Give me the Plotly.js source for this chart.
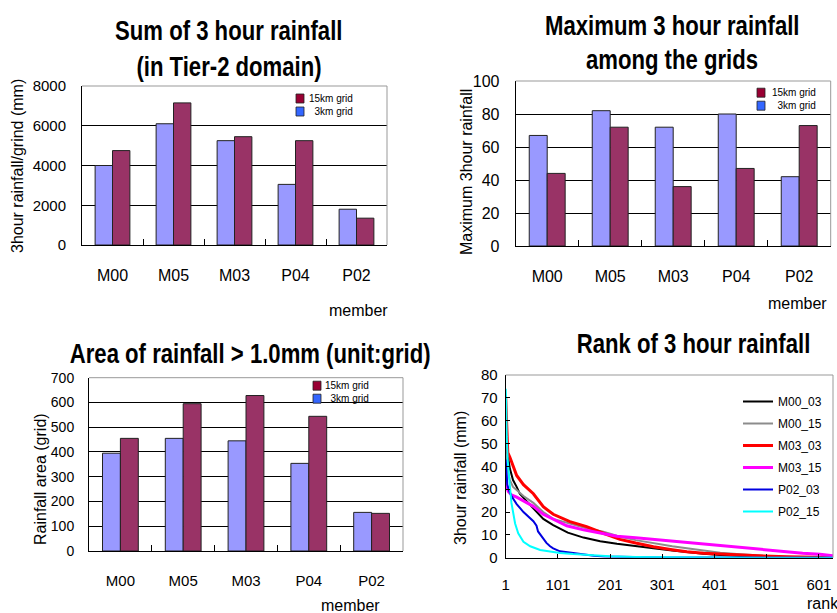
<!DOCTYPE html>
<html>
<head>
<meta charset="utf-8">
<script src="https://cdn.plot.ly/plotly-3.0.1.min.js"></script>
<style>html,body{margin:0;padding:0;background:#fff;}#chart{width:837px;height:613px;}</style>
</head>
<body>
<div id="chart"></div>
<script>
// ---------- data ----------
var members = ['M00', 'M05', 'M03', 'P04', 'P02'];

var sum3km  = [4000, 6100, 5250, 3050, 1800];
var sum15km = [4750, 7150, 5450, 5250, 1350];

var max3km  = [67, 82, 72, 80, 42];
var max15km = [44, 72, 36, 47, 73];

var area3km  = [395, 455, 445, 354, 156];
var area15km = [455, 595, 628, 544, 152];

var rankTicks = [1, 101, 201, 301, 401, 501, 601];

var m00_03_rank = [1, 3, 5, 9, 15, 22, 28, 40, 54, 73, 92, 120, 150, 182, 214, 250, 284, 320, 348, 380, 412, 440, 470, 520, 580, 630];
var m00_03_val  = [60, 52, 45, 39, 34, 31, 28, 25, 21.5, 17, 14.3, 11, 8.8, 7.2, 6.1, 5, 4.1, 3.2, 2.4, 1.7, 1.2, 0.8, 0.5, 0.2, 0.1, 0.05];

var m00_15_rank = [1, 3, 5, 9, 15, 22, 35, 54, 73, 92, 124, 156, 188, 220, 250, 284, 320, 348, 380, 412, 450, 475, 510, 550, 600, 630];
var m00_15_val  = [50, 42, 38, 34, 31, 29.6, 27, 24, 20, 17, 15, 12.9, 11.4, 9.2, 7.7, 6.3, 5, 4.1, 3.1, 2.2, 1.5, 1.1, 0.6, 0.3, 0.1, 0.05];

var m03_03_rank = [1, 2, 3, 5, 9, 15, 22, 35, 54, 73, 92, 124, 156, 188, 220, 250, 284, 320, 348, 380, 412, 440, 475, 510, 539, 580, 630];
var m03_03_val  = [70, 62, 55, 46, 44, 40, 36, 32, 28, 22.3, 19, 15.8, 13.6, 10.7, 8, 6.4, 4.8, 3.5, 2.6, 2, 1.6, 1.2, 0.8, 0.6, 0.4, 0.2, 0.1];

var m03_15_rank = [1, 3, 6, 12, 22, 35, 54, 73, 92, 118, 150, 182, 214, 250, 284, 320, 348, 380, 412, 440, 475, 510, 539, 570, 603, 630];
var m03_15_val  = [37, 31, 29, 27.5, 26.5, 25, 22.5, 19, 17, 14, 12.2, 10.7, 9.4, 8.7, 8, 7.3, 6.6, 5.9, 5.1, 4.5, 3.8, 3.1, 2.5, 2, 1.5, 0.8];

var p02_03_rank = [1, 2, 4, 8, 12, 22, 35, 54, 60, 63, 73, 79, 86, 92, 105, 124, 150, 170, 190, 220, 300, 400, 500, 630];
var p02_03_val  = [43, 38, 32, 29, 27, 23.5, 20, 16, 14, 11.5, 8.5, 6.5, 5, 4.1, 2.8, 2.2, 1.4, 0.9, 0.5, 0.3, 0.1, 0.05, 0, 0];

var p02_15_rank = [1, 2, 3, 5, 8, 12, 19, 25, 35, 48, 67, 86, 105, 130, 156, 200, 250, 300, 400, 500, 630];
var p02_15_val  = [74, 68, 53, 42, 34, 24, 15, 10.7, 7, 5, 3.4, 2.6, 2.1, 1.6, 1.2, 0.6, 0.3, 0.15, 0.05, 0, 0];

// ---------- helpers ----------
var W = 837, H = 613;
function px(x) { return x / W; }
function py(y) { return 1 - y / H; }

var sans = 'Liberation Sans, Arial, sans-serif';

var col3 = '#9999FF', col15 = '#993366';
var barLine = {color: '#222', width: 1};

function bar(x, y, color, xa, ya) {
  return {type: 'bar', x: x, y: y, xaxis: xa, yaxis: ya, showlegend: false,
          marker: {color: color, line: barLine}, hoverinfo: 'x+y'};
}
function line(x, y, name, color, width) {
  return {type: 'scatter', mode: 'lines', x: x, y: y, xaxis: 'x4', yaxis: 'y4', name: name,
          legendgroup: name, line: {color: color, width: width}};
}

var traces = [
  bar(members, sum3km, col3, 'x', 'y'),
  bar(members, sum15km, col15, 'x', 'y'),
  bar(members, max3km, col3, 'x2', 'y2'),
  bar(members, max15km, col15, 'x2', 'y2'),
  bar(members, area3km, col3, 'x3', 'y3'),
  bar(members, area15km, col15, 'x3', 'y3'),
  line(m00_03_rank, m00_03_val, 'M00_03', '#000000', 2),
  line(m00_15_rank, m00_15_val, 'M00_15', '#8C8C8C', 2),
  line(m03_03_rank, m03_03_val, 'M03_03', '#FF0000', 3),
  line(m03_15_rank, m03_15_val, 'M03_15', '#FF00FF', 3),
  line(p02_03_rank, p02_03_val, 'P02_03', '#0000E0', 2),
  line(p02_15_rank, p02_15_val, 'P02_15', '#00FFFF', 2)
];

function catAxis(dom, anchor, fsize) {
  return {domain: dom, anchor: anchor, type: 'category', showline: true, linecolor: '#000', linewidth: 1,
          ticks: 'inside', tickson: 'boundaries', ticklen: 6, tickcolor: '#000',
          ticklabelstandoff: 16, tickfont: {family: sans, size: fsize, color: '#000'},
          showgrid: false, zeroline: false, fixedrange: true};
}
function valAxis(dom, anchor, range, dtick, standoff, fsize) {
  return {domain: dom, anchor: anchor, range: range, dtick: dtick, showline: true, linecolor: '#000',
          linewidth: 1, showgrid: true, gridcolor: '#000', gridwidth: 1, zeroline: false, ticks: '',
          ticklabelstandoff: standoff, tickfont: {family: sans, size: fsize, color: '#000'}, fixedrange: true};
}

var ax4x = {domain: [px(505.7), px(833)], anchor: 'y4', range: [1, 628], tickvals: rankTicks,
            showline: true, linecolor: '#000', ticks: 'inside', ticklen: 4, tickcolor: '#000',
            ticklabelstandoff: 13, tickfont: {family: sans, size: 15, color: '#000'},
            showgrid: false, zeroline: false, fixedrange: true};
var ax4y = {domain: [py(557.7), py(375)], anchor: 'x4', range: [0, 80], dtick: 10,
            showline: true, linecolor: '#000', ticks: 'inside', ticklen: 4, tickcolor: '#000',
            ticklabelstandoff: 4, tickfont: {family: sans, size: 15, color: '#000'},
            showgrid: false, zeroline: false, fixedrange: true};

function frame(xr, yr) {
  var s = {type: 'line', xref: xr + ' domain', yref: yr + ' domain', line: {color: '#999', width: 1}, layer: 'above'};
  return [Object.assign({x0: 0, x1: 1, y0: 1, y1: 1}, s), Object.assign({x0: 1, x1: 1, y0: 0, y1: 1}, s)];
}
function keySquare(x, y, color) {
  return {type: 'rect', xref: 'paper', yref: 'paper', x0: px(x), x1: px(x + 8), y0: py(y + 4.5), y1: py(y - 4.5),
          fillcolor: color, line: {color: '#222', width: 0.8}, layer: 'above'};
}
// key rows are 13 px apart (line spacing of a 10 px two-line label)
var shapes = [].concat(frame('x', 'y'), frame('x2', 'y2'), frame('x3', 'y3'), frame('x4', 'y4'),
  [keySquare(296, 98.5, '#990033'), keySquare(296, 111.5, '#3366FF'),
   keySquare(757, 92.7, '#990033'), keySquare(757, 105.7, '#3366FF'),
   keySquare(313, 385.7, '#990033'), keySquare(313, 398.7, '#3366FF')]);

function ann(text, x, y, opts) {
  var a = {text: text, x: px(x), y: py(y), xref: 'paper', yref: 'paper', showarrow: false,
           xanchor: 'center', yanchor: 'middle', font: {family: sans, size: 16, color: '#000'}};
  return Object.assign(a, opts || {});
}
var titleFont = {family: sans, size: 27, color: '#000', weight: 'bold'};
var keyFont = {family: sans, size: 10, color: '#000'};
var keyText = '15km grid<br>3km grid';
var titleTexts = ['Sum of 3 hour rainfall', '(in Tier-2 domain)', 'Maximum 3 hour rainfall', 'among the grids',
                  'Area of rainfall > 1.0mm (unit:grid)', 'Rank of 3 hour rainfall'];
var annotations = [
  ann(titleTexts[0], 229, 31, {font: titleFont}),
  ann(titleTexts[1], 229, 67, {font: titleFont}),
  ann(titleTexts[2], 672, 26, {font: titleFont}),
  ann(titleTexts[3], 672, 60, {font: titleFont}),
  ann(titleTexts[4], 250, 354, {font: titleFont}),
  ann(titleTexts[5], 693, 344, {font: titleFont}),
  ann('3hour rainfall/grind (mm)', 18, 166, {textangle: -90}),
  ann('Maximum 3hour rainfall', 466, 172, {textangle: -90}),
  ann('Rainfall area (grid)', 40, 479, {textangle: -90}),
  ann('3hour rainfall (mm)', 460, 478, {textangle: -90}),
  ann('member', 358, 310),
  ann('member', 797, 303),
  ann('member', 350, 605),
  ann('rank', 805, 603, {xanchor: 'left'}),
  ann(keyText, 355, 105, {xanchor: 'right', align: 'right', font: keyFont}),
  ann(keyText, 818, 99.2, {xanchor: 'right', align: 'right', font: keyFont}),
  ann(keyText, 371, 392.2, {xanchor: 'right', align: 'right', font: keyFont})
];

var layout = {
  width: W, height: H, margin: {l: 0, r: 0, t: 0, b: 0},
  paper_bgcolor: '#fff', plot_bgcolor: '#fff',
  barmode: 'group', bargap: 0.43, bargroupgap: 0,
  xaxis: catAxis([px(82), px(387)], 'y', 16),
  yaxis: valAxis([py(245), py(86)], 'x', [0, 8000], 2000, 12, 15),
  xaxis2: catAxis([px(515.7), px(830.7)], 'y2', 16),
  yaxis2: valAxis([py(246), py(81)], 'x2', [0, 100], 20, 12, 16),
  xaxis3: catAxis([px(89), px(403)], 'y3', 15),
  yaxis3: valAxis([py(551), py(377.7)], 'x3', [0, 700], 100, 11, 14),
  xaxis4: ax4x,
  yaxis4: ax4y,
  showlegend: true,
  legend: {x: px(738), y: py(387), xanchor: 'left', yanchor: 'top', bgcolor: 'rgba(0,0,0,0)',
           font: {family: sans, size: 12, color: '#000'}, tracegroupgap: 3},
  shapes: shapes,
  annotations: annotations
};

// narrow the bold titles horizontally (as in the reference's condensed face)
function condenseTitles(gd) {
  var texts = gd.querySelectorAll('.annotation-text');
  for (var i = 0; i < texts.length; i++) {
    var t = texts[i];
    if (titleTexts.indexOf(t.textContent) < 0) continue;
    var bb = t.getBBox();
    var cx = bb.x + bb.width / 2;
    t.setAttribute('transform', 'translate(' + cx + ',0) scale(0.82,1) translate(' + (-cx) + ',0)');
  }
}

Plotly.newPlot('chart', traces, layout, {staticPlot: true, displayModeBar: false}).then(condenseTitles);
</script>
</body>
</html>
